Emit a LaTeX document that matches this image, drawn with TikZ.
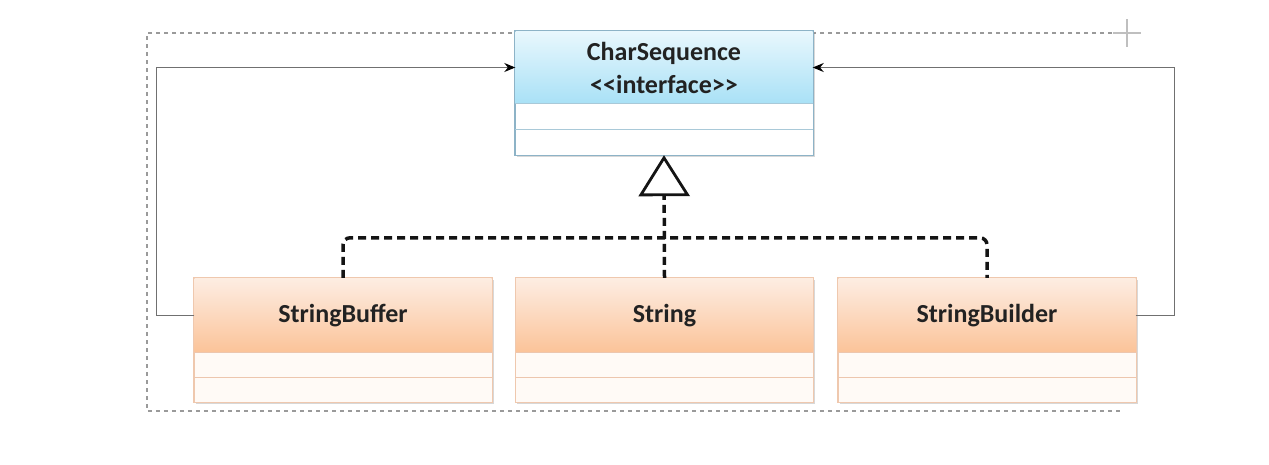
\documentclass[tikz,border=0pt]{standalone}
\usepackage{fontspec}
\setmainfont{Carlito}
\usetikzlibrary{arrows.meta,shadows}
\definecolor{bluetop}{HTML}{E8F7FD}
\definecolor{bluebot}{HTML}{A9E1F6}
\definecolor{blueline}{HTML}{8DB3C7}
\definecolor{bluediv}{HTML}{A9C9D8}
\definecolor{orgtop}{HTML}{FDEDE2}
\definecolor{orgbot}{HTML}{FBC398}
\definecolor{orgline}{HTML}{EFC8AE}
\definecolor{orgdiv}{HTML}{EDC6AE}
\definecolor{orgcomp}{HTML}{FFFAF6}
\definecolor{txt}{HTML}{222222}
\definecolor{selgray}{HTML}{9A9A9A}
\definecolor{conngray}{HTML}{707070}
\begin{document}
\begin{tikzpicture}[x=1pt,y=-1pt,
  classbox/.style={draw=#1, minimum width=298pt, minimum height=124pt, inner sep=0pt,
    drop shadow={opacity=0.3, shadow xshift=1.5pt, shadow yshift=-2pt}},
  bluehdr/.style={top color=bluetop, bottom color=bluebot, draw=none,
    minimum width=297pt, minimum height=72pt, inner sep=0pt, anchor=north,
    text=txt, align=center, font=\bfseries\fontsize{26}{33}\selectfont},
  orghdr/.style={top color=orgtop, bottom color=orgbot, draw=none,
    minimum width=297pt, minimum height=74pt, inner sep=0pt, anchor=north,
    text=txt, align=center, font=\bfseries\fontsize{26}{33}\selectfont},
  real/.style={line width=3.5pt, dash pattern=on 8pt off 5pt, draw=black!92},
  conn/.style={line width=1.3pt, draw=conngray},
  sel/.style={line width=1.3pt, draw=selgray, dash pattern=on 4pt off 4pt}]
\useasboundingbox (0,0) rectangle (1269,464);
\fill[white] (0,0) rectangle (1269,464);

% selection frame
\draw[sel] (1120,33) -- (147,33) -- (147,411) -- (1120,411);
\draw[line width=2pt, draw=black!25] (1113,33) -- (1141,33) (1127,19) -- (1127,47);

% CharSequence
\node[classbox=blueline, fill=white] (cs) at (664,93) {};
\node[bluehdr] (csh) at ([yshift=-0.5pt]cs.north) {CharSequence\\<\kern0pt<interface>\kern0pt>};
\draw[bluediv, line width=1pt] (csh.south west) -- (csh.south east);
\draw[bluediv, line width=1pt] ([yshift=-26pt]csh.south west) -- ([yshift=-26pt]csh.south east);
\draw[blueline, line width=1pt] (cs.north west) rectangle (cs.south east);

% StringBuffer
\node[classbox=orgline, fill=orgcomp] (sb) at (343,340) {};
\node[orghdr] (sbh) at ([yshift=-0.5pt]sb.north) {StringBuffer};
\draw[orgdiv, line width=1pt] (sbh.south west) -- (sbh.south east);
\draw[orgdiv, line width=1pt] ([yshift=-25pt]sbh.south west) -- ([yshift=-25pt]sbh.south east);
\draw[orgline, line width=1pt] (sb.north west) rectangle (sb.south east);

% String
\node[classbox=orgline, fill=orgcomp] (s) at (664.5,340) {};
\node[orghdr] (sh) at ([yshift=-0.5pt]s.north) {String};
\draw[orgdiv, line width=1pt] (sh.south west) -- (sh.south east);
\draw[orgdiv, line width=1pt] ([yshift=-25pt]sh.south west) -- ([yshift=-25pt]sh.south east);
\draw[orgline, line width=1pt] (s.north west) rectangle (s.south east);

% StringBuilder
\node[classbox=orgline, fill=orgcomp] (sbd) at (987,340) {};
\node[orghdr] (sbdh) at ([yshift=-0.5pt]sbd.north) {StringBuilder};
\draw[orgdiv, line width=1pt] (sbdh.south west) -- (sbdh.south east);
\draw[orgdiv, line width=1pt] ([yshift=-25pt]sbdh.south west) -- ([yshift=-25pt]sbdh.south east);
\draw[orgline, line width=1pt] (sbd.north west) rectangle (sbd.south east);

% realizations
\draw[real, rounded corners=7pt] (sb.north) -- ++(0,-40) -| (sbd.north);
\draw[real, -{Triangle[open, length=41pt, width=51pt, line width=2.8pt, fill=white]}] (s.north) -- (cs.south);

% associations
\draw[conn, -{Stealth[length=11pt, width=9pt, black]}] (sbh.west) -- ++(-38,0) |- (csh.west);
\draw[conn, -{Stealth[length=11pt, width=9pt, black]}] (sbdh.east) -- ++(39,0) |- (csh.east);
\end{tikzpicture}
\end{document}
